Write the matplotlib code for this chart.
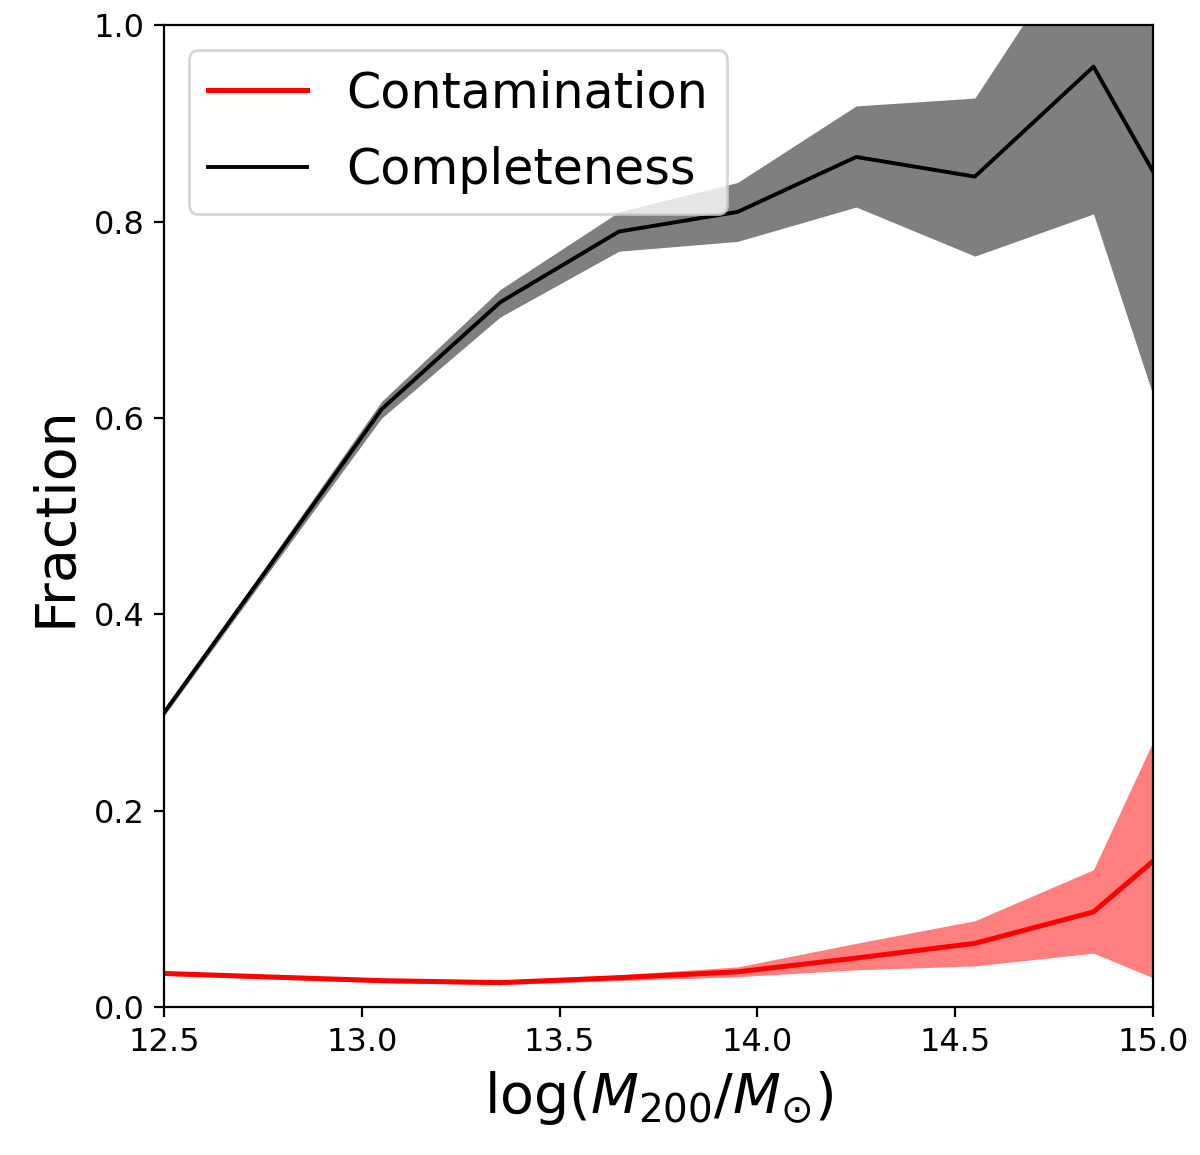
import matplotlib
matplotlib.use('Agg')
import matplotlib.pyplot as plt
import numpy as np

# bin centres in log(M200/Msun)
mass = [12.45, 12.75, 13.05, 13.35, 13.65, 13.95, 14.25, 14.55, 14.85, 15.15]

# completeness and its band
compl = [0.272, 0.44, 0.609, 0.718, 0.79, 0.81, 0.866, 0.846, 0.958, 0.745]
compl_lo = [0.269, 0.435, 0.600, 0.703, 0.77, 0.78, 0.815, 0.765, 0.808, 0.44]
compl_hi = [0.275, 0.445, 0.617, 0.731, 0.81, 0.84, 0.918, 0.926, 1.11, 1.25]

# contamination and its band
contam = [0.035, 0.031, 0.027, 0.025, 0.030, 0.036, 0.050, 0.065, 0.097, 0.20]
contam_lo = [0.033, 0.029, 0.025, 0.023, 0.027, 0.031, 0.038, 0.042, 0.055, 0.005]
contam_hi = [0.037, 0.033, 0.029, 0.027, 0.033, 0.041, 0.065, 0.088, 0.140, 0.40]

fig = plt.figure(figsize=(6, 5.775), dpi=200)
ax = fig.add_axes([0.1367, 0.128, 0.824, 0.850])

ax.fill_between(mass, contam_lo, contam_hi, color='red', alpha=0.5, lw=0)
ax.fill_between(mass, compl_lo, compl_hi, color='black', alpha=0.5, lw=0)
ax.plot(mass, contam, color='red', lw=1.8, label='Contamination')
ax.plot(mass, compl, color='black', lw=1.4, label='Completeness')

ax.set_xlim(12.5, 15.0)
ax.set_ylim(0.0, 1.0)
ax.set_xticks([12.5, 13.0, 13.5, 14.0, 14.5, 15.0])
ax.set_yticks([0.0, 0.2, 0.4, 0.6, 0.8, 1.0])
ax.tick_params(labelsize=11.5)
ax.set_xlabel(r'$\log(M_{200}/M_{\odot})$', fontsize=20)
ax.set_ylabel('Fraction', fontsize=20)

ax.legend(loc='upper left', fontsize=17.7, labelspacing=0.58)

fig.savefig('out.png', dpi=200)
